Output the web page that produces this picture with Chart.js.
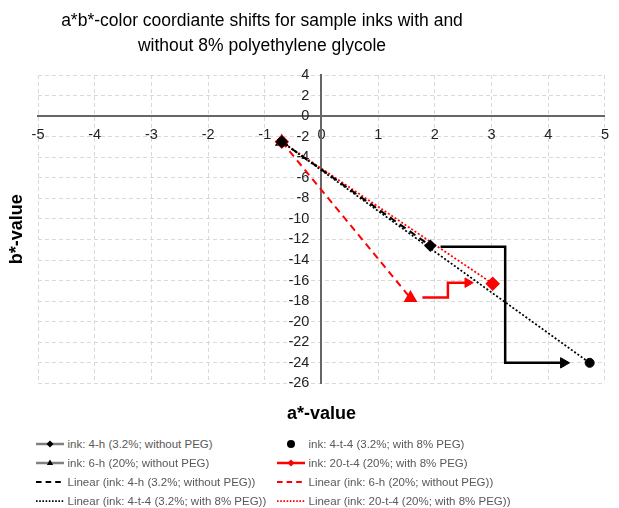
<!DOCTYPE html>
<html>
<head>
<meta charset="utf-8">
<script src="https://cdn.jsdelivr.net/npm/chart.js@4.4.0/dist/chart.umd.min.js"></script>
<style>
  body { margin: 0; background: #fff; font-family: Arial, "Liberation Sans", sans-serif; }
  #wrap { position: relative; width: 619px; height: 508px; }
  #title { position: absolute; left: 0; top: 8px; width: 524px; text-align: center; font-size: 17.5px; line-height: 25px; color: #000; }
  #chartBox { position: absolute; left: 0; top: 0; }
  #legend { position: absolute; left: 36px; top: 435px; display: grid; grid-template-columns: 241px 300px; grid-auto-rows: 18.8px; font-size: 11.5px; color: #595959; }
  .item { display: flex; align-items: center; white-space: nowrap; }
  .item canvas { margin-right: 3.5px; }
</style>
</head>
<body>
<div id="wrap">
  <div id="chartBox"><canvas id="abChart" width="619" height="430"></canvas></div>
  <div id="title">a*b*-color coordiante shifts for sample inks with and<br>without 8% polyethylene glycole</div>
  <div id="legend"></div>
</div>
<script>
// точки (a*, b*)
const ink4hA = [-0.7, 1.92];
const ink4hB = [-2.5, -12.6];
const ink6hA = [-0.7, 1.57];
const ink6hB = [-2.5, -17.7];
const ink4t4A = [-0.7, 4.73];
const ink4t4B = [-2.5, -24.0];
const ink20t4A = [-0.7, 3.02];
const ink20t4B = [-2.5, -16.3];

// стрелки на графике
const blackArrowA = [2.1, 3.24, 3.24, 4.27];
const blackArrowB = [-12.7, -12.7, -24.0, -24.0];
const redArrowA = [1.78, 2.23, 2.23, 2.58];
const redArrowB = [-17.65, -17.65, -16.2, -16.2];

// оси
const xTicksMin = -5, xTicksMax = 5, xStep = 1;
const yTicksMin = -26, yTicksMax = 4, yStep = 2;

const RED = '#ff0000';
const BLACK = '#000000';
const GRAY = '#808080';
const FONT = 'Arial, "Liberation Sans", sans-serif';

function toPoints(xs, ys) {
    return xs.map((x, i) => ({ x: x, y: ys[i] }));
}

// линейный тренд (как в Excel)
function linearFit(xs, ys) {
    const n = xs.length;
    const mx = xs.reduce((a, b) => a + b, 0) / n;
    const my = ys.reduce((a, b) => a + b, 0) / n;
    let sxy = 0, sxx = 0;
    for (let i = 0; i < n; i++) {
        sxy += (xs[i] - mx) * (ys[i] - my);
        sxx += (xs[i] - mx) * (xs[i] - mx);
    }
    const k = sxy / sxx;
    const b = my - k * mx;
    const x0 = Math.min(...xs), x1 = Math.max(...xs);
    return [{ x: x0, y: k * x0 + b }, { x: x1, y: k * x1 + b }];
}

const datasets = [
    {
        label: 'ink: 4-t-4 (3.2%; with 8% PEG)',
        data: toPoints(ink4t4A, ink4t4B),
        showLine: false, borderColor: 'transparent',
        pointStyle: 'circle', pointRadius: 4.5,
        pointBackgroundColor: BLACK, pointBorderColor: BLACK
    },
    {
        label: 'ink: 4-h (3.2%; without PEG)',
        data: toPoints(ink4hA, ink4hB),
        showLine: false, borderColor: GRAY, borderWidth: 2.5,
        pointStyle: 'rectRot', pointRadius: 4.5,
        pointBackgroundColor: BLACK, pointBorderColor: BLACK
    },
    {
        label: 'ink: 20-t-4 (20%; with 8% PEG)',
        data: toPoints(ink20t4A, ink20t4B),
        showLine: false, borderColor: RED, borderWidth: 2.5,
        pointStyle: 'rectRot', pointRadius: 5.5,
        pointBackgroundColor: RED, pointBorderColor: RED
    },
    {
        label: 'ink: 6-h (20%; without PEG)',
        data: toPoints(ink6hA, ink6hB),
        showLine: false, borderColor: GRAY, borderWidth: 2.5,
        pointStyle: 'triangle', pointRadius: 5.5,
        pointBackgroundColor: [BLACK, RED], pointBorderColor: [BLACK, RED]
    },
    {
        label: 'arrow black',
        data: toPoints(blackArrowA, blackArrowB),
        showLine: true, borderColor: BLACK, borderWidth: 2.5,
        pointStyle: 'triangle', pointRadius: [0, 0, 0, 6], pointRotation: 90,
        pointBackgroundColor: BLACK, pointBorderColor: BLACK, pointBorderWidth: 1
    },
    {
        label: 'arrow red',
        data: toPoints(redArrowA, redArrowB),
        showLine: true, borderColor: RED, borderWidth: 2.5,
        pointStyle: 'triangle', pointRadius: [0, 0, 0, 5.5], pointRotation: 90,
        pointBackgroundColor: RED, pointBorderColor: RED, pointBorderWidth: 1
    },
    {
        label: 'Linear (ink: 4-h (3.2%; without PEG))',
        data: linearFit(ink4hA, ink4hB),
        showLine: true, borderColor: BLACK, borderWidth: 2, borderDash: [7, 5], pointRadius: 0
    },
    {
        label: 'Linear (ink: 6-h (20%; without PEG))',
        data: linearFit(ink6hA, ink6hB),
        showLine: true, borderColor: RED, borderWidth: 2, borderDash: [7, 5], pointRadius: 0
    },
    {
        label: 'Linear (ink: 4-t-4 (3.2%; with 8% PEG))',
        data: linearFit(ink4t4A, ink4t4B),
        showLine: true, borderColor: BLACK, borderWidth: 1.75, borderDash: [2, 2], pointRadius: 0
    },
    {
        label: 'Linear (ink: 20-t-4 (20%; with 8% PEG))',
        data: linearFit(ink20t4A, ink20t4B),
        showLine: true, borderColor: RED, borderWidth: 1.75, borderDash: [2, 2], pointRadius: 0
    }
];
datasets.forEach(ds => { ds.xAxisID = 'x'; ds.yAxisID = 'y'; });

const legendOrder = [
    'ink: 4-h (3.2%; without PEG)', 'ink: 4-t-4 (3.2%; with 8% PEG)',
    'ink: 6-h (20%; without PEG)', 'ink: 20-t-4 (20%; with 8% PEG)',
    'Linear (ink: 4-h (3.2%; without PEG))', 'Linear (ink: 6-h (20%; without PEG))',
    'Linear (ink: 4-t-4 (3.2%; with 8% PEG))', 'Linear (ink: 20-t-4 (20%; with 8% PEG))'
];

const tickFont = { family: FONT, size: 14.5 };

const abChart = new Chart(document.getElementById('abChart'), {
    type: 'scatter',
    data: { datasets: datasets },
    options: {
        responsive: false,
        animation: false,
        layout: { padding: { top: 75, right: 6, bottom: 1 } },
        scales: {
            x: {
                type: 'linear', min: xTicksMin, max: xTicksMax, position: { y: 0 },
                ticks: { stepSize: xStep, padding: 10, color: '#222', font: tickFont },
                grid: { color: '#d9d9d9', lineWidth: 1, drawTicks: false },
                border: { display: true, color: '#666', width: 2, dash: [4, 3] }
            },
            y: {
                type: 'linear', min: yTicksMin, max: yTicksMax, position: { x: 0 },
                // подписи слева от оси (отступ пробелами)
                ticks: { stepSize: yStep, color: '#222', font: tickFont, callback: v => v + '   ' },
                grid: { color: '#d9d9d9', lineWidth: 1, drawTicks: false },
                border: { display: true, color: '#666', width: 2, dash: [4, 3] }
            },
            xTitle: {
                type: 'linear', position: 'bottom',
                ticks: { display: false },
                grid: { display: false, drawTicks: false },
                border: { display: false },
                title: { display: true, text: 'a*-value', color: '#000',
                    font: { family: FONT, size: 18, weight: 'bold' }, padding: { top: 20, bottom: 4 } }
            },
            yTitle: {
                type: 'linear', position: 'left',
                ticks: { display: false },
                grid: { display: false, drawTicks: false },
                border: { display: false },
                title: { display: true, text: 'b*-value', color: '#000',
                    font: { family: FONT, size: 18, weight: 'bold' }, padding: { top: 6.7, bottom: 9.7 } }
            }
        },
        plugins: {
            legend: { display: false },
            tooltip: { enabled: false }
        }
    }
});

// легенда
function drawMarker(ctx, style, x, y, r, color) {
    ctx.fillStyle = color;
    ctx.beginPath();
    if (style === 'circle') {
        ctx.arc(x, y, r, 0, Math.PI * 2);
    } else if (style === 'rectRot') {
        ctx.moveTo(x, y - r); ctx.lineTo(x + r, y); ctx.lineTo(x, y + r); ctx.lineTo(x - r, y);
    } else if (style === 'triangle') {
        ctx.moveTo(x, y - r); ctx.lineTo(x + r * 0.9, y + r * 0.6); ctx.lineTo(x - r * 0.9, y + r * 0.6);
    }
    ctx.closePath();
    ctx.fill();
}

const legendEl = document.getElementById('legend');
legendOrder.forEach(label => {
    const ds = datasets.find(d => d.label === label);
    const item = document.createElement('div');
    item.className = 'item';
    const c = document.createElement('canvas');
    c.width = 28; c.height = 14;
    const ctx = c.getContext('2d');
    if (ds.borderColor !== 'transparent') {
        ctx.strokeStyle = ds.borderColor;
        ctx.lineWidth = ds.borderWidth;
        ctx.setLineDash(ds.borderDash ? ds.borderDash.map(v => v * 0.8) : []);
        ctx.beginPath();
        ctx.moveTo(0, 7); ctx.lineTo(28, 7);
        ctx.stroke();
    }
    if (ds.pointRadius && !Array.isArray(ds.pointRadius) && ds.pointRadius > 0) {
        const col = Array.isArray(ds.pointBackgroundColor) ? ds.pointBackgroundColor[0] : ds.pointBackgroundColor;
        drawMarker(ctx, ds.pointStyle, 14, 7, ds.pointStyle === 'circle' ? 4 : 3.5, col);
    }
    const span = document.createElement('span');
    span.textContent = label;
    item.appendChild(c);
    item.appendChild(span);
    legendEl.appendChild(item);
});
</script>
</body>
</html>
